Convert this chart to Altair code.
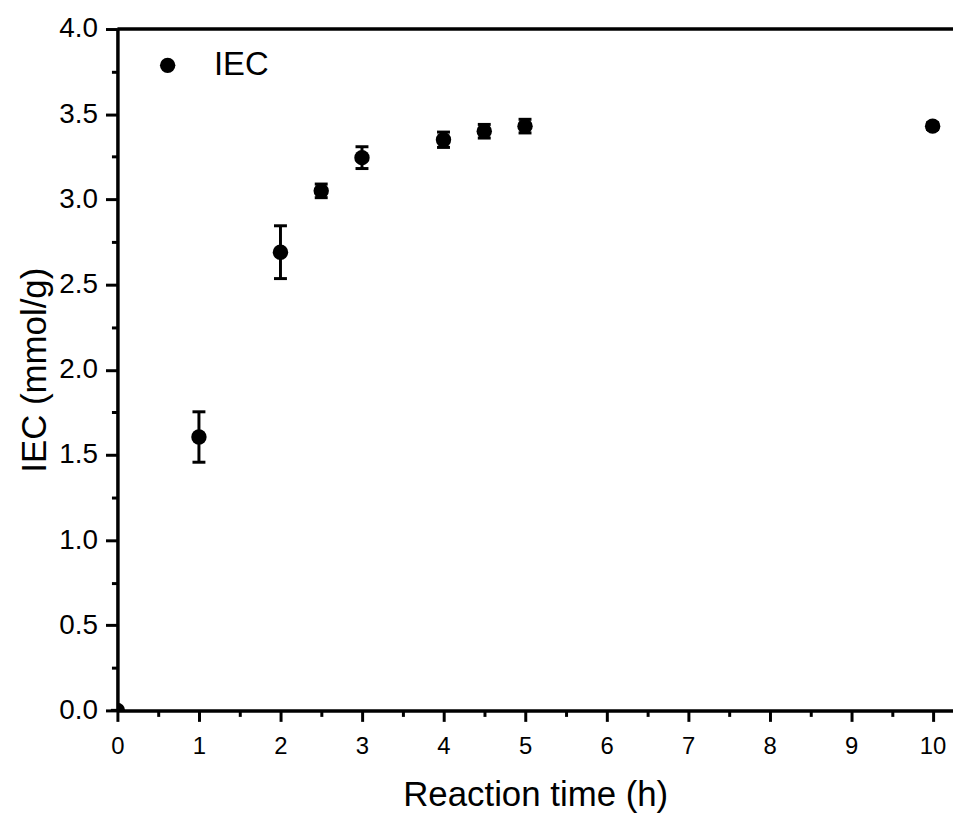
import altair as alt
import pandas as pd

# data
time_h = [0, 1, 2, 2.5, 3, 4, 4.5, 5, 10]
iec = [0.0, 1.605, 2.69, 3.05, 3.245, 3.35, 3.40, 3.43, 3.43]
iec_err = [0.0, 0.148, 0.155, 0.04, 0.064, 0.045, 0.04, 0.04, 0.02]
series_name = "IEC"
x_tick_values = [i * 0.5 for i in range(21)]
y_tick_values = [i * 0.25 for i in range(17)]

df = pd.DataFrame({"t": time_h, "iec": iec, "err": iec_err})
df["lo"] = df["iec"] - df["err"]
df["hi"] = df["iec"] + df["err"]
df["series"] = series_name

W, H = 840, 685
FONT = "Liberation Sans"

xscale = alt.Scale(domain=[0, 10.25], nice=False, zero=False)
yscale = alt.Scale(domain=[0, 4.0], nice=False)

x_axis = alt.Axis(
    values=x_tick_values,
    labelExpr="datum.value % 1 ? '' : format(datum.value, 'd')",
    tickSize={"condition": {"test": "datum.value % 1 !== 0", "value": 6}, "value": 11},
    title="Reaction time (h)",
    titleFontSize=35,
    titleFontWeight="normal",
    titlePadding=20,
    labelFontSize=24,
    labelPadding=13,
    labelFlush=False,
    grid=False,
)
y_axis = alt.Axis(
    values=y_tick_values,
    labelExpr="(datum.value * 100) % 50 ? '' : format(datum.value, '.1f')",
    tickSize={"condition": {"test": "(datum.value * 100) % 50 !== 0", "value": 6}, "value": 12},
    title="IEC (mmol/g)",
    titleFontSize=35,
    titleFontWeight="normal",
    titlePadding=6,
    labelFontSize=28,
    labelPadding=8,
    labelFlush=False,
    grid=False,
)

base = alt.Chart(df)

bars = base.mark_rule(color="black", strokeWidth=3).encode(
    x=alt.X("t:Q", scale=xscale, axis=x_axis),
    y=alt.Y("lo:Q", scale=yscale, axis=y_axis),
    y2="hi:Q",
)
cap_lo = base.mark_tick(color="black", orient="horizontal", size=13, thickness=3, opacity=1).encode(
    x="t:Q", y="lo:Q"
)
cap_hi = base.mark_tick(color="black", orient="horizontal", size=13, thickness=3, opacity=1).encode(
    x="t:Q", y="hi:Q"
)
points = base.mark_circle(size=240, opacity=1, clip=True).encode(
    x="t:Q",
    y="iec:Q",
    color=alt.Color(
        "series:N",
        scale=alt.Scale(range=["black"]),
        legend=alt.Legend(
            title=None,
            orient="none",
            legendX=34,
            legendY=20,
            padding=0,
            symbolSize=240,
            symbolType="circle",
            symbolStrokeWidth=0,
            labelFontSize=33,
            labelOffset=30,
            labelFont=FONT,
            labelColor="black",
        ),
    ),
)

top_line = alt.Chart(pd.DataFrame({"k": [0]})).mark_rule(color="black", strokeWidth=3.5).encode(
    x=alt.value(0), x2=alt.value(W), y=alt.value(0)
)

chart = (
    alt.layer(bars, cap_lo, cap_hi, points, top_line)
    .properties(
        width=W,
        height=H,
        autosize=alt.AutoSizeParams(type="none"),
        padding={"left": 110, "top": 19, "right": 0, "bottom": 104},
    )
    .configure_view(stroke=None)
    .configure_axis(
        domainColor="black",
        domainWidth=3.5,
        tickColor="black",
        tickWidth=3,
        labelColor="black",
        titleColor="black",
        labelFont=FONT,
        titleFont=FONT,
    )
)

chart.save("out.html", embed_options={"renderer": "svg", "actions": False})
